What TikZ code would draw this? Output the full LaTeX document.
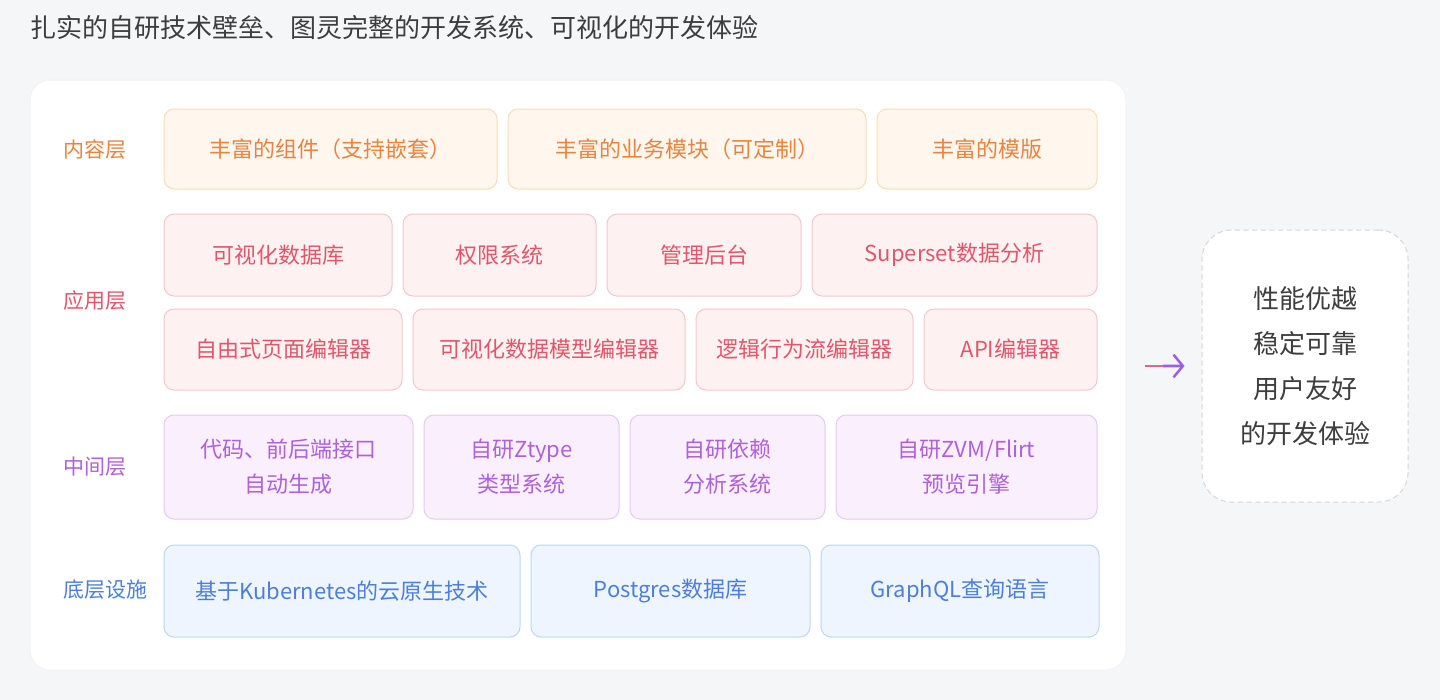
\documentclass[tikz,border=0pt]{standalone}
\usepackage{fontspec}
\setmainfont{Noto Sans CJK SC}
\usetikzlibrary{arrows.meta, calc, positioning}
\definecolor{bgc}{HTML}{F5F6F8}
\definecolor{titlec}{HTML}{3D3D3D}
\definecolor{conT}{HTML}{E8843F}
\definecolor{conF}{HTML}{FFF7EE}
\definecolor{conD}{HTML}{FADDB8}
\definecolor{appT}{HTML}{E0566B}
\definecolor{appF}{HTML}{FEF1F1}
\definecolor{appD}{HTML}{F5C6CB}
\definecolor{midT}{HTML}{B060D9}
\definecolor{midF}{HTML}{F9EFFD}
\definecolor{midD}{HTML}{E6C9F3}
\definecolor{infT}{HTML}{4C7FDB}
\definecolor{infF}{HTML}{EEF5FE}
\definecolor{infD}{HTML}{BCD7F2}
\definecolor{arrA}{HTML}{E0668E}
\definecolor{arrB}{HTML}{9D5FE3}
\tikzset{
    box/.style={rounded corners=7.5pt, line width=0.75pt, inner sep=0pt, align=center,
        font=\fontsize{16.5}{26.25}\selectfont},
    conBox/.style={box, draw=conD, fill=conF, text=conT},
    appBox/.style={box, draw=appD, fill=appF, text=appT},
    midBox/.style={box, draw=midD, fill=midF, text=midT},
    infBox/.style={box, draw=infD, fill=infF, text=infT},
    layer/.style={anchor=west, inner sep=0pt, font=\fontsize{15.75}{20}\selectfont}
}

\begin{document}
\begin{tikzpicture}[x=0.75pt, y=-0.75pt]
    % one unit = one pixel of the 1440x700 reference
    \def\blk#1#2#3#4#5#6#7{\node[#2, minimum width={(#4-#3)*0.75pt}, minimum height={(#6-#5)*0.75pt}] (#1) at ({(#3+#4)/2},{(#5+#6)/2}) {#7};}
    \fill[bgc] (0,0) rectangle (1440,700);
    \node[anchor=west, inner sep=0pt, text=titlec, font=\fontsize{19.5}{23}\selectfont] (title) at (30,28) {扎实的自研技术壁垒、图灵完整的开发系统、可视化的开发体验};
    \node[fill=white, draw=black!5, line width=0.75pt, rounded corners=15pt, minimum width={1096*0.75pt}, minimum height={590*0.75pt}] (panel) at (578,375) {};
    % layer names
    \node[layer, text=conT] (lcon) at (63,150) {内容层};
    \node[layer, text=appT] (lapp) at (63,301) {应用层};
    \node[layer, text=midT] (lmid) at (63,467) {中间层};
    \node[layer, text=infT] (linf) at (63,590) {底层设施};
    % content layer
    \blk{c1}{conBox}{164}{497}{109}{189}{丰富的组件（支持嵌套）}
    \blk{c2}{conBox}{508}{866}{109}{189}{丰富的业务模块（可定制）}
    \blk{c3}{conBox}{877}{1097}{109}{189}{丰富的模版}
    % application layer
    \blk{p1}{appBox}{164}{392}{214}{296}{可视化数据库}
    \blk{p2}{appBox}{403}{596}{214}{296}{权限系统}
    \blk{p3}{appBox}{607}{801}{214}{296}{管理后台}
    \blk{p4}{appBox}{812}{1097}{214}{296}{Superset数据分析}
    \blk{p5}{appBox}{164}{402}{309}{390}{自由式页面编辑器}
    \blk{p6}{appBox}{413}{685}{309}{390}{可视化数据模型编辑器}
    \blk{p7}{appBox}{696}{913}{309}{390}{逻辑行为流编辑器}
    \blk{p8}{appBox}{924}{1097}{309}{390}{API编辑器}
    % middle layer
    \blk{m1}{midBox}{164}{413}{415}{519}{代码、前后端接口\\自动生成}
    \blk{m2}{midBox}{424}{619}{415}{519}{自研Ztype\\类型系统}
    \blk{m3}{midBox}{630}{825}{415}{519}{自研依赖\\分析系统}
    \blk{m4}{midBox}{836}{1097}{415}{519}{自研ZVM/Flirt\\预览引擎}
    % infrastructure
    \blk{b1}{infBox}{164}{520}{545}{637}{基于Kubernetes的云原生技术}
    \blk{b2}{infBox}{531}{810}{545}{637}{Postgres数据库}
    \blk{b3}{infBox}{821}{1099}{545}{637}{GraphQL查询语言}
    % result
    \node[fill=white, draw=black!16, dash pattern=on 4pt off 2.5pt, line width=0.75pt, rounded corners=22pt,
        minimum width={206*0.75pt}, minimum height={272*0.75pt}, align=center, text=titlec,
        font=\fontsize{19.5}{33.75}\selectfont] (result) at (1305,366) {性能优越\\稳定可靠\\用户友好\\的开发体验};
    \coordinate (arrS) at (1145,366);
    \coordinate (arrE) at ([xshift=-12.75pt]result.west);
    \draw[arrA, line width=1.9pt] (arrS) -- ($(arrS)!0.5!(arrE)$);
    \draw[arrB, line width=1.9pt, -{Straight Barb[length=7pt, width=17pt]}] ($(arrS)!0.45!(arrE)$) -- (arrE);
\end{tikzpicture}
\end{document}
